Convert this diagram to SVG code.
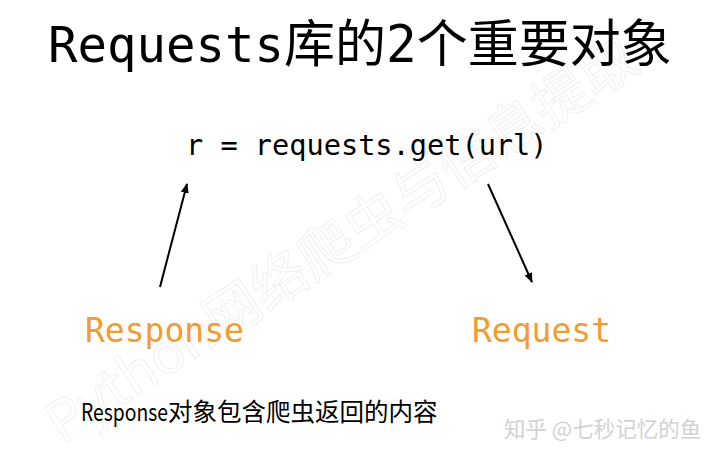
<svg xmlns="http://www.w3.org/2000/svg" width="720" height="460" viewBox="0 0 720 460">
  <style>
    .mono { font-family: "DejaVu Sans Mono", "Liberation Mono", "Noto Sans CJK SC", monospace; }
    .sans { font-family: "Noto Sans CJK SC", "Noto Sans", sans-serif; }
    .label { fill: #F29B30; font-size: 33px; }
    .conn { stroke: #000; stroke-width: 2; fill: none; marker-end: url(#arrow); }
    .wm { fill: none; stroke: #f0f0f0; stroke-width: 1; }
  </style>
  <defs>
    <marker id="arrow" viewBox="0 0 10 8" refX="9" refY="4" markerWidth="5" markerHeight="4" orient="auto">
      <path d="M0,0 L10,4 L0,8 z" fill="#000"/>
    </marker>
  </defs>
  <rect width="720" height="460" fill="#fff"/>

  <g id="watermark">
    <text class="sans wm" x="62" y="445" font-size="56" transform="rotate(-33 62 445)">Python网络爬虫与信息提取</text>
  </g>

  <g id="title">
    <text class="mono" x="48" y="62" font-size="49" fill="#000">Requests<tspan font-size="51">库的2个重要对象</tspan></text>
  </g>

  <g id="code">
    <text class="mono" x="186" y="155" font-size="28.6" fill="#000">r = requests.get(url)</text>
  </g>

  <g id="response">
    <text class="mono label" x="85" y="342">Response</text>
  </g>

  <g id="request">
    <text class="mono label" x="472" y="342">Request</text>
  </g>

  <g id="connectors">
    <line class="conn" x1="160" y1="287" x2="187" y2="184"/>
    <line class="conn" x1="488" y1="184" x2="532" y2="282"/>
  </g>

  <g id="note">
    <text class="sans" x="81" y="421" font-size="24" fill="#000" textLength="87" lengthAdjust="spacingAndGlyphs">Response</text>
    <text class="sans" x="168" y="421" font-size="24.5" fill="#000">对象包含爬虫返回的内容</text>
  </g>

  <g id="credit">
    <text class="sans" x="504" y="437" font-size="21.5" fill="#d2d2d2">知乎 @七秒记忆的鱼</text>
  </g>
</svg>
